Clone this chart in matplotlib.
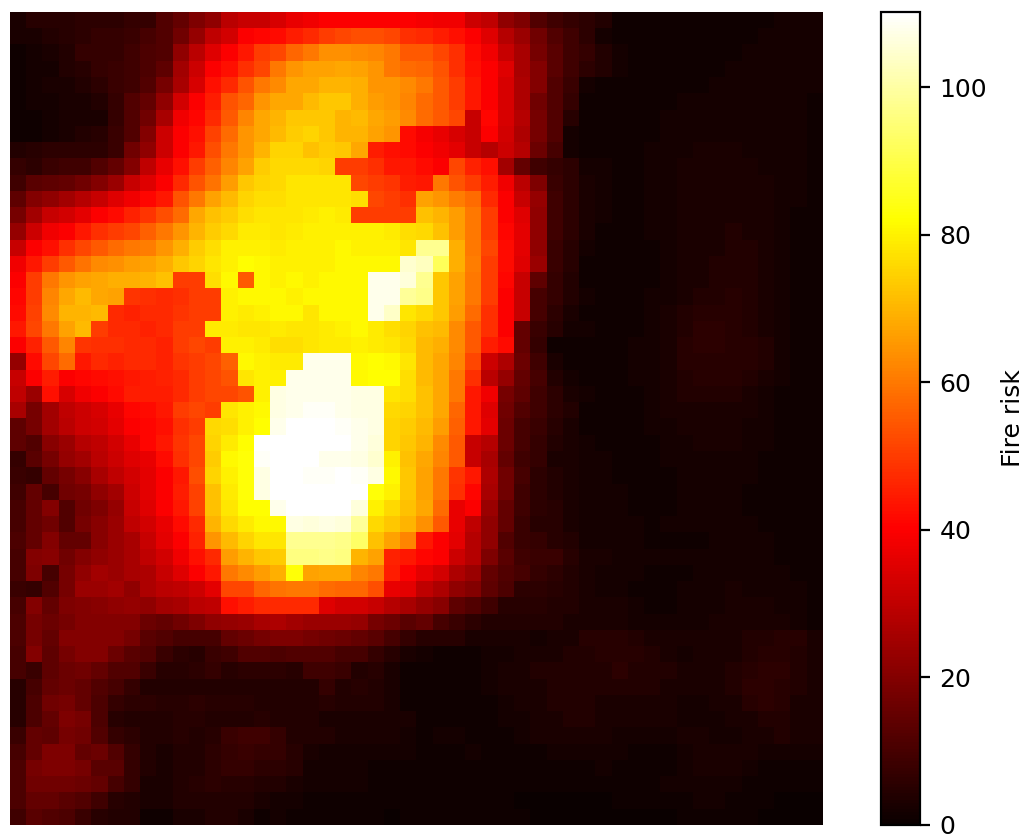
import numpy as np
import matplotlib
matplotlib.use("Agg")
import matplotlib.pyplot as plt

row00 = [3,5,5,5,6,6,6,7,7,12, 15,19,22,29,31,31,34,37,38,40, 40,40,40,40,40,39,38,38,32,30, 22,19,12,9,7,6,4,1,1,1, 1,1,1,1,1,1,1,2,2,2]
row01 = [3,3,4,5,6,7,7,8,10,12, 17,23,30,33,40,41,42,45,47,50, 52,53,53,52,48,47,45,43,40,35, 28,24,17,12,9,6,2,1,1,1, 1,1,1,1,1,1,2,2,2,2]
row02 = [1,2,3,4,7,7,7,9,11,12, 22,29,35,40,44,50,52,57,60,64, 64,63,62,60,55,55,52,48,42,38, 31,26,18,13,9,7,4,2,1,1, 1,1,1,1,1,2,2,2,2,2]
row03 = [1,2,2,4,5,7,8,9,11,14, 25,32,40,43,48,52,60,65,67,67, 68,67,65,60,58,57,54,48,43,40, 35,26,20,13,9,6,4,2,1,1, 1,1,1,1,2,2,2,2,2,2]
row04 = [1,2,3,3,4,6,8,9,12,18, 26,34,43,47,54,60,63,68,68,70, 70,69,65,65,63,60,55,50,44,40, 34,27,20,12,8,2,1,1,1,1, 1,1,1,2,2,2,2,2,2,2]
row05 = [1,2,2,3,3,4,7,12,15,22, 33,40,45,54,57,65,68,68,71,73, 73,69,66,65,62,58,55,50,44,40, 34,27,17,12,7,1,1,1,1,1, 1,2,2,2,2,2,2,2,2,1]
row06 = [1,1,2,3,3,3,7,12,17,26, 38,41,47,55,62,68,70,73,73,73, 70,71,68,66,63,58,55,52,31,41, 34,28,18,12,5,1,1,1,1,1, 2,2,2,2,2,2,2,2,2,1]
row07 = [1,1,2,3,4,5,8,12,20,32, 40,43,51,58,65,68,71,74,75,73, 70,70,67,65,42,39,37,34,31,40, 33,27,18,12,2,1,1,1,1,1, 2,2,2,2,2,2,2,2,2,1]
row08 = [4,5,6,6,6,6,8,17,22,32, 40,44,53,60,65,70,75,75,72,74, 73,68,45,43,42,40,38,36,31,28, 32,28,16,10,2,1,1,1,1,2, 2,2,3,3,3,2,2,2,2,1]
row09 = [7,6,8,9,9,12,15,20,30,37, 43,50,56,62,67,74,76,76,76,75, 50,50,48,44,44,42,40,52,46,43, 25,15,9,7,6,2,2,1,1,2, 2,3,3,3,3,3,2,2,2,1]
row10 = [9,13,14,15,17,20,24,31,35,40, 47,54,59,66,73,75,76,78,78,78, 78,52,50,49,45,44,60,54,50,45, 38,29,19,8,6,3,2,1,1,2, 2,3,3,3,3,3,3,2,2,1]
row11 = [14,20,22,25,28,31,35,38,41,44, 54,60,67,71,75,77,77,78,78,78, 78,77,52,50,48,67,65,61,58,47, 40,31,23,9,6,3,2,1,1,2, 2,3,3,3,3,3,3,2,2,1]
row12 = [18,25,31,33,36,40,42,46,49,53, 58,68,72,74,77,78,78,78,79,80, 79,50,50,50,50,72,70,66,60,50, 40,35,22,9,6,3,2,1,1,2, 2,3,3,3,3,3,3,2,1,1]
row13 = [23,32,38,40,44,48,50,52,56,60, 65,70,74,76,79,79,78,79,80,80, 80,80,80,79,77,76,72,66,60,50, 41,36,22,9,6,3,1,1,1,2, 2,3,3,3,4,3,3,2,1,1]
row14 = [31,40,43,48,52,55,58,60,61,65, 69,74,77,80,80,80,79,80,80,80, 81,80,80,80,78,98,98,69,60,52, 42,36,22,8,5,2,1,1,1,1, 2,3,3,3,4,4,3,2,1,1]
row15 = [38,44,50,55,59,63,64,66,67,69, 73,75,78,80,82,81,80,80,80,80, 81,81,81,81,105,103,92,69,61,50, 42,35,24,8,5,1,1,1,1,1, 2,3,3,4,4,4,3,2,1,1]
row16 = [40,50,60,65,67,68,69,69,70,72, 50,50,77,81,55,81,80,81,80,81, 81,81,108,108,106,98,73,67,60,50, 41,31,14,7,4,1,1,1,1,1, 2,3,3,4,4,4,3,2,1,1]
row17 = [41,50,62,68,71,68,67,49,48,47, 48,50,50,80,81,81,81,80,81,81, 81,81,108,108,99,97,73,67,60,50, 40,31,10,7,4,2,1,1,1,2, 2,3,4,4,5,4,3,2,1,1]
row18 = [42,51,63,70,70,71,47,46,47,47, 49,50,50,80,79,80,81,81,78,81, 81,81,108,104,78,76,73,66,58,48, 40,31,10,6,3,1,1,1,1,2, 3,4,5,5,5,4,3,2,1,1]
row19 = [44,52,60,67,71,50,47,47,46,47, 50,50,79,79,78,78,79,78,78,79, 80,81,79,77,75,72,71,63,55,48, 40,15,8,5,2,2,1,1,1,2, 3,4,6,6,5,4,3,2,1,1]
row20 = [40,46,55,62,49,48,48,47,47,46, 50,52,50,80,80,79,77,77,78,79, 79,80,79,78,76,71,69,63,55,45, 42,15,7,1,1,1,1,1,2,2, 3,5,6,6,5,5,4,2,1,1]
row21 = [23,42,52,58,44,47,46,47,47,46, 49,50,52,56,81,80,79,79,108,108, 108,81,82,81,78,71,68,62,52,32, 27,16,9,3,1,1,1,1,2,2, 3,5,5,5,5,5,4,2,1,1]
row22 = [31,40,45,40,41,42,43,44,45,46, 47,50,52,54,78,80,80,108,108,108, 108,81,82,82,77,71,68,60,48,29, 23,15,10,4,2,1,1,1,2,2, 3,4,5,5,5,4,3,2,1,1]
row23 = [30,24,43,34,38,40,42,45,45,45, 47,50,52,52,54,80,107,108,108,108, 108,107,107,78,77,72,68,60,44,38, 18,14,9,6,3,2,1,1,1,2, 3,4,4,4,4,3,2,1,1,1]
row24 = [26,18,25,30,32,34,37,41,42,44, 50,52,50,78,80,81,107,108,109,109, 108,107,107,76,75,72,68,57,44,35, 17,12,9,6,4,1,1,1,1,2, 3,3,3,3,3,3,2,1,1,1]
row25 = [14,18,25,29,32,33,36,40,41,43, 48,50,76,77,80,82,108,110,110,110, 109,108,107,75,74,71,66,56,44,36, 16,10,8,5,3,1,1,1,1,2, 2,3,3,3,3,2,2,1,1,1]
row26 = [14,12,21,24,28,30,33,37,41,44, 49,52,75,79,82,110,110,110,110,110, 110,108,106,75,73,70,63,55,31,28, 16,10,7,4,3,2,1,1,1,1, 2,2,3,3,3,2,2,1,1,1]
row27 = [7,13,18,23,25,29,32,35,37,42, 48,52,74,81,83,109,110,110,110,108, 108,107,105,80,72,68,62,55,31,26, 15,9,7,3,3,2,2,1,1,1, 2,2,2,2,2,2,1,1,1,1]
row28 = [8,7,15,18,21,26,30,33,36,40, 44,53,75,80,83,107,110,110,109,109, 110,109,107,81,73,67,60,49,44,27, 17,10,6,4,3,2,2,1,1,1, 1,2,2,2,2,2,1,1,1,1]
row29 = [9,15,10,17,18,22,25,32,36,40, 45,51,72,79,83,107,110,110,110,110, 110,110,83,80,73,67,60,48,41,26, 17,9,6,4,3,2,2,2,1,1, 1,2,2,2,2,1,1,1,1,1]
row30 = [10,15,20,12,17,19,23,31,35,40, 44,51,72,78,82,82,108,110,110,110, 110,106,80,76,72,68,58,37,40,24, 15,9,6,5,3,2,2,2,1,1, 1,2,2,2,2,1,1,1,1,1]
row31 = [10,15,17,12,18,21,24,30,33,37, 42,47,70,76,79,81,81,107,106,107, 106,99,76,73,70,64,55,37,30,22, 15,8,5,5,3,2,2,2,2,1, 2,2,2,2,2,2,1,1,1,1]
row32 = [11,15,20,15,15,21,24,26,31,36, 40,46,65,71,75,78,78,98,98,98, 97,93,72,67,62,44,40,36,28,22, 12,8,7,5,4,2,2,2,2,1, 1,1,1,2,2,2,2,1,1,1]
row33 = [10,20,21,17,20,22,24,26,30,33, 38,43,47,66,70,73,74,96,96,97, 96,70,67,46,44,41,40,32,28,19, 13,9,8,8,5,3,3,2,2,2, 2,2,2,2,2,2,2,1,1,1]
row34 = [10,19,10,18,22,25,24,26,27,31, 35,40,44,60,63,66,69,83,67,68, 68,62,60,45,40,36,33,27,24,15, 12,10,7,6,4,3,2,2,2,1, 1,1,2,2,2,2,2,2,1,1]
row35 = [8,7,12,18,24,24,25,22,27,29, 30,32,36,52,52,57,59,60,60,58, 57,57,53,37,36,30,27,22,20,14, 11,6,6,5,4,3,2,2,1,1, 1,2,2,2,3,2,2,2,2,1]
row36 = [10,20,15,19,20,21,22,23,22,25, 26,29,30,43,45,47,47,47,47,35, 33,33,31,28,26,23,21,14,12,9, 5,5,5,4,4,3,3,3,2,1, 1,2,2,2,3,3,3,2,2,1]
row37 = [11,18,16,18,20,20,20,20,16,15, 17,19,22,23,24,26,27,25,24,24, 24,23,18,16,13,15,10,8,6,4, 4,4,4,4,3,3,3,3,2,2, 2,2,2,3,3,3,3,3,2,1]
row38 = [11,18,15,20,20,20,20,18,13,12, 10,10,10,15,16,18,19,19,18,17, 16,15,13,10,7,5,5,5,3,3, 3,3,2,3,3,5,5,5,4,3, 3,3,3,3,3,4,4,5,5,3]
row39 = [10,20,14,18,20,20,16,13,12,8, 6,5,8,9,12,12,11,12,12,12, 10,10,7,5,3,2,1,1,1,2, 2,3,3,3,4,4,5,5,5,4, 3,2,3,3,3,4,5,5,4,3]
row40 = [10,8,14,16,17,15,12,12,8,5, 5,6,7,5,6,6,6,5,9,9, 8,4,5,3,1,1,1,1,1,2, 3,3,4,4,4,4,4,6,4,4, 4,3,3,3,4,5,6,6,4,3]
row41 = [5,10,15,16,15,12,10,7,4,4, 4,4,4,4,4,4,4,4,4,7, 4,5,4,3,1,1,1,1,1,2, 3,3,3,4,4,4,4,4,4,4, 3,3,3,3,4,6,6,5,4,3]
row42 = [5,11,17,18,15,11,7,6,6,5, 5,6,5,5,5,4,4,4,4,5, 4,4,4,3,1,1,1,1,1,1, 2,3,3,4,4,4,3,3,3,3, 3,2,2,3,3,5,6,5,3,3]
row43 = [5,11,15,19,18,11,5,4,4,4, 5,5,4,4,4,5,4,4,4,3, 3,3,3,3,3,1,1,1,1,1, 2,2,3,3,4,4,3,3,3,3, 3,2,2,2,3,3,4,4,3,3]
row44 = [8,15,14,18,17,12,7,6,4,4, 5,4,5,8,9,9,7,4,4,4, 3,3,3,3,2,1,2,2,1,1, 1,2,3,3,3,3,3,2,2,2, 2,3,3,2,2,3,3,4,3,3]
row45 = [10,15,19,19,15,16,12,7,4,3, 4,4,6,7,8,7,7,5,3,2, 2,2,2,2,2,1,1,1,2,1, 1,1,1,2,2,2,2,2,1,1, 1,2,3,3,3,3,2,2,2,2]
row46 = [11,18,19,19,18,13,13,7,4,3, 4,4,6,7,7,6,6,5,2,2, 2,2,1,1,1,1,1,1,1,1, 1,1,1,1,1,1,2,1,1,1, 1,2,3,3,3,2,1,1,1,1]
row47 = [11,17,17,17,16,15,10,7,3,3, 4,5,6,5,5,4,4,3,2,2, 2,2,1,1,1,1,1,1,1,1, 1,1,1,1,1,1,1,1,1,1, 2,2,2,2,2,1,1,1,1,1]
row48 = [11,15,15,13,12,9,5,4,3,3, 4,4,4,4,4,3,2,2,1,1, 1,1,1,1,1,1,1,1,1,1, 1,0,0,0,0,0,0,1,1,1, 1,1,2,2,1,1,1,0,0,0]
row49 = [9,13,12,11,8,5,4,4,1,1, 3,3,4,4,3,1,2,1,1,1, 1,1,1,0,1,1,1,1,1,1, 1,1,0,0,0,0,0,0,0,0, 0,1,1,1,1,1,0,0,0,0]

rows = [row00,row01,row02,row03,row04,row05,row06,row07,row08,row09,
        row10,row11,row12,row13,row14,row15,row16,row17,row18,row19,
        row20,row21,row22,row23,row24,row25,row26,row27,row28,row29,
        row30,row31,row32,row33,row34,row35,row36,row37,row38,row39,
        row40,row41,row42,row43,row44,row45,row46,row47,row48,row49]
risk_max = 110.2
cbar_ticks = [0, 20, 40, 60, 80, 100]

W, H, DPI = 1030, 840, 200
fig = plt.figure(figsize=(W / DPI, H / DPI), dpi=DPI)
plt.rcParams['font.size'] = 9
ax = fig.add_axes([10 / W, 1 - 825 / H, 813 / W, 813 / H])
im = ax.imshow(np.array(rows, dtype=float), cmap='hot', vmin=0, vmax=risk_max, aspect='auto')
ax.axis('off')
cax = fig.add_axes([881 / W, 1 - 825 / H, 39 / W, 813 / H])
cbar = fig.colorbar(im, cax=cax)
cbar.set_ticks(cbar_ticks)
cbar.ax.tick_params(labelsize=9)
cbar.set_label('Fire risk', fontsize=9, labelpad=5)
fig.savefig('out.png', dpi=DPI)
